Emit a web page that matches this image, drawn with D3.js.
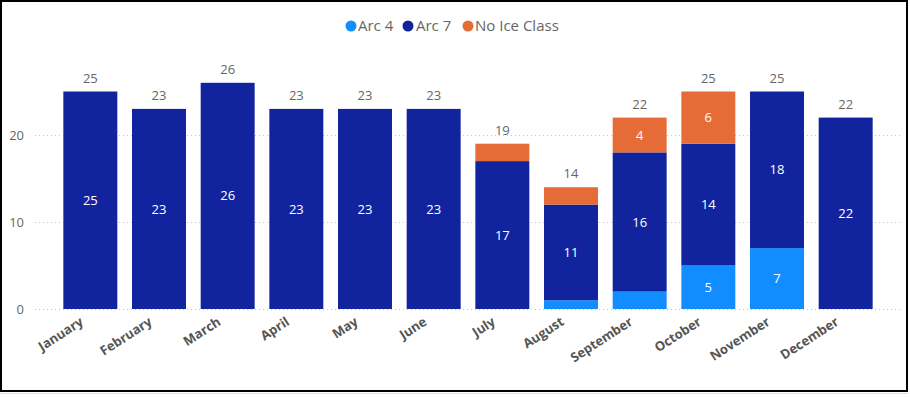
<!DOCTYPE html>
<html>
<head>
<meta charset="utf-8">
<script src="https://cdn.jsdelivr.net/npm/d3@7"></script>
<style>
  html, body { margin: 0; padding: 0; background: #fff; }
  svg { display: block; }
  svg text { font-family: "Open Sans", "Noto Sans", sans-serif; }
</style>
</head>
<body>
<div id="chart"></div>
<script>
const months = ['January', 'February', 'March', 'April', 'May', 'June', 'July', 'August', 'September', 'October', 'November', 'December'];
const seriesNames = ['Arc 4', 'Arc 7', 'No Ice Class'];
const arc4 = [0, 0, 0, 0, 0, 0, 0, 1, 2, 5, 7, 0];
const arc7 = [25, 23, 26, 23, 23, 23, 17, 11, 16, 14, 18, 22];
const noIce = [0, 0, 0, 0, 0, 0, 2, 2, 4, 6, 0, 0];
const yTicks = [0, 10, 20];

const colors = { 'Arc 4': '#118DFF', 'Arc 7': '#12239E', 'No Ice Class': '#E66C37' };

const width = 910, height = 397;

const rows = months.map((m, i) => ({ month: m, 'Arc 4': arc4[i], 'Arc 7': arc7[i], 'No Ice Class': noIce[i] }));
const totals = rows.map(r => r['Arc 4'] + r['Arc 7'] + r['No Ice Class']);
const stacked = d3.stack().keys(seriesNames)(rows);

const svg = d3.select('#chart').append('svg')
  .attr('width', width)
  .attr('height', height);

// frame
svg.append('rect')
  .attr('x', 1).attr('y', 1)
  .attr('width', 906).attr('height', 390)
  .attr('fill', '#fff')
  .attr('stroke', '#000')
  .attr('stroke-width', 2);
svg.append('line')
  .attr('x1', 0).attr('x2', 908).attr('y1', 393.5).attr('y2', 393.5)
  .attr('stroke', '#e2e2e2').attr('stroke-width', 1);

const x = d3.scaleBand()
  .domain(months)
  .range([56, 880])
  .paddingInner(0.214)
  .paddingOuter(0.107);

const y = d3.scaleLinear()
  .domain([0, 30])
  .range([309, 48]);

// gridlines
svg.append('g')
  .selectAll('line')
  .data(yTicks)
  .join('line')
  .attr('x1', 35).attr('x2', 902)
  .attr('y1', d => Math.round(y(d)) + 0.5)
  .attr('y2', d => Math.round(y(d)) + 0.5)
  .attr('stroke', '#c8c8c8')
  .attr('stroke-dasharray', '1,3');

// y axis labels
const yAxis = svg.append('g')
  .attr('transform', 'translate(24,0)')
  .call(d3.axisLeft(y).tickValues(yTicks).tickSize(0).tickPadding(0));
yAxis.select('.domain').remove();
yAxis.selectAll('text')
  .attr('fill', '#666')
  .style('font-family', '"Open Sans", sans-serif')
  .style('font-size', '13px');

// bars
const layers = svg.append('g')
  .selectAll('g')
  .data(stacked)
  .join('g')
  .attr('fill', d => colors[d.key]);

layers.selectAll('rect')
  .data(d => d)
  .join('rect')
  .attr('x', d => x(d.data.month))
  .attr('width', x.bandwidth())
  .attr('y', d => y(d[1]))
  .attr('height', d => y(d[0]) - y(d[1]));

// inside labels
layers.each(function(layer) {
  d3.select(this).selectAll('text')
    .data(layer.filter(d => d[1] - d[0] >= 4))
    .join('text')
    .attr('x', d => x(d.data.month) + x.bandwidth() / 2)
    .attr('y', d => y((d[0] + d[1]) / 2))
    .attr('dy', '0.35em')
    .attr('text-anchor', 'middle')
    .attr('fill', '#fff')
    .style('font-size', '13px')
    .text(d => d[1] - d[0]);
});

// totals
svg.append('g')
  .selectAll('text')
  .data(months)
  .join('text')
  .attr('x', m => x(m) + x.bandwidth() / 2)
  .attr('y', (m, i) => y(totals[i]) - 9)
  .attr('text-anchor', 'middle')
  .attr('fill', '#666')
  .style('font-size', '13px')
  .text((m, i) => totals[i]);

// x axis labels
const xAxis = svg.append('g')
  .attr('transform', 'translate(0,309)')
  .call(d3.axisBottom(x).tickSize(0).tickPadding(0));
xAxis.select('.domain').remove();
xAxis.selectAll('text')
  .attr('fill', '#555')
  .style('font-family', '"Open Sans", sans-serif')
  .style('font-size', '13px')
  .style('font-weight', 'bold')
  .attr('text-anchor', 'end')
  .attr('y', 0)
  .attr('dy', 0)
  .attr('transform', 'translate(-6,15) rotate(-33)');

// legend
const legendItems = [
  { name: 'Arc 4', cx: 351, tx: 358 },
  { name: 'Arc 7', cx: 408, tx: 416 },
  { name: 'No Ice Class', cx: 468, tx: 475 }
];
const legend = svg.append('g');
legend.selectAll('circle')
  .data(legendItems)
  .join('circle')
  .attr('cx', d => d.cx)
  .attr('cy', 26)
  .attr('r', 5.5)
  .attr('fill', d => colors[d.name]);
legend.selectAll('text')
  .data(legendItems)
  .join('text')
  .attr('x', d => d.tx)
  .attr('y', 26)
  .attr('dy', '0.35em')
  .attr('fill', '#666')
  .style('font-size', '15px')
  .text(d => d.name);
</script>
</body>
</html>
